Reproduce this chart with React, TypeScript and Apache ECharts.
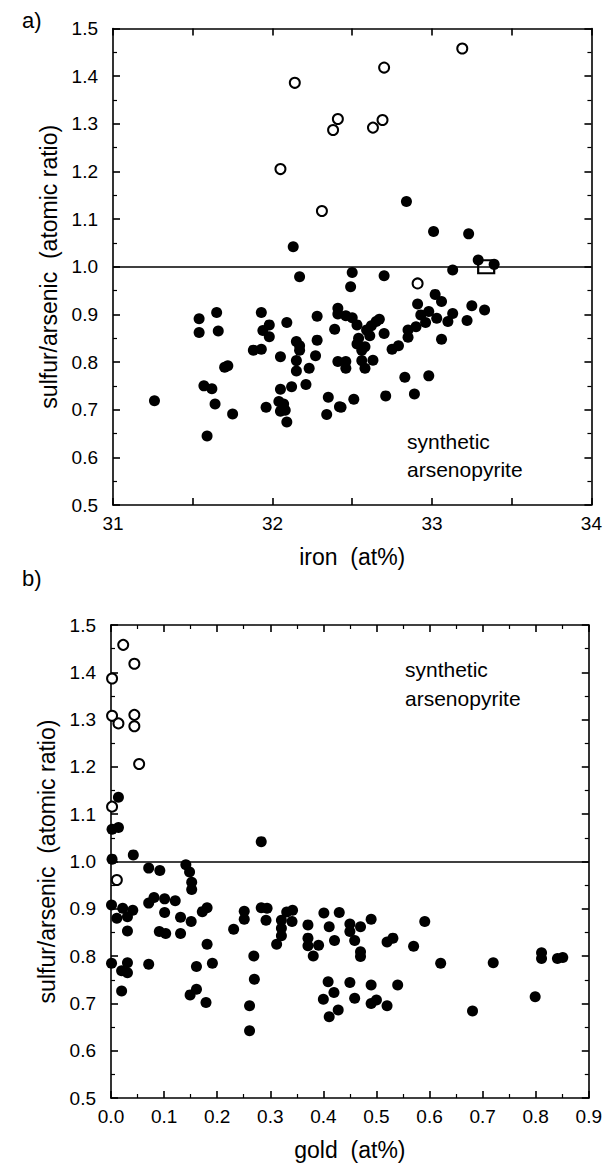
import React, { useEffect, useRef } from "react";
import * as echarts from "echarts";

// ---- data ----
const ironFilled: [number, number][] = [
  [32.13, 1.042], [32.17, 0.979], [32.84, 1.137], [33.01, 1.074], [33.23, 1.069], [33.29, 1.014], [33.39, 1.005], [33.13, 0.993], [32.50, 0.988], [32.70, 0.981],
  [31.26, 0.719], [31.54, 0.891], [31.54, 0.862], [31.65, 0.904], [31.66, 0.865], [31.57, 0.750], [31.62, 0.744], [31.64, 0.712], [31.59, 0.645], [31.70, 0.789], [31.72, 0.792], [31.75, 0.691],
  [31.93, 0.904], [31.88, 0.825], [31.93, 0.827], [31.94, 0.866], [31.98, 0.878], [31.98, 0.853], [31.96, 0.705], [32.09, 0.883], [32.05, 0.811], [32.05, 0.743], [32.04, 0.717], [32.07, 0.712],
  [32.05, 0.697], [32.08, 0.699], [32.09, 0.674], [32.12, 0.748], [32.15, 0.843], [32.17, 0.834], [32.17, 0.825], [32.15, 0.803], [32.15, 0.781], [32.21, 0.753], [32.23, 0.787], [32.28, 0.846],
  [32.28, 0.896], [32.27, 0.813], [32.35, 0.726], [32.34, 0.690], [32.39, 0.869], [32.41, 0.913], [32.41, 0.901], [32.41, 0.801], [32.42, 0.706],
  [32.49, 0.958], [32.46, 0.897], [32.50, 0.893], [32.53, 0.878], [32.59, 0.867], [32.62, 0.876], [32.65, 0.885], [32.67, 0.890], [32.61, 0.855], [32.54, 0.850], [32.53, 0.838], [32.58, 0.832],
  [32.56, 0.825], [32.70, 0.860], [32.46, 0.801], [32.46, 0.787], [32.56, 0.803], [32.58, 0.787], [32.63, 0.804], [32.75, 0.827], [32.79, 0.834], [32.85, 0.867], [32.85, 0.852], [32.90, 0.874],
  [32.91, 0.922], [32.93, 0.899], [32.96, 0.883], [32.98, 0.906], [33.02, 0.942], [33.03, 0.892], [33.06, 0.927], [33.13, 0.902], [33.10, 0.885], [33.06, 0.848], [33.22, 0.887], [33.25, 0.918],
  [33.33, 0.909], [32.83, 0.768], [32.98, 0.771], [32.89, 0.733], [32.71, 0.729], [32.51, 0.722], [32.43, 0.705],
];
const ironOpen: [number, number][] = [
  [32.14, 1.386], [32.05, 1.205], [32.31, 1.117], [32.38, 1.287], [32.41, 1.31], [33.19, 1.458], [32.70, 1.418], [32.63, 1.292], [32.69, 1.308], [32.91, 0.965],
];
const ironSquare: [number, number][] = [[33.34, 1.0]];

const goldFilled: [number, number][] = [
  [0.014, 1.136], [0.002, 1.068], [0.014, 1.072], [0.002, 1.005], [0.042, 1.014], [0.283, 1.042],
  [0.001, 0.908], [0.011, 0.880], [0.022, 0.901], [0.031, 0.883], [0.041, 0.897], [0.031, 0.853], [0.001, 0.785], [0.020, 0.769], [0.031, 0.786], [0.031, 0.765], [0.020, 0.726],
  [0.071, 0.986], [0.092, 0.981], [0.071, 0.912], [0.081, 0.924], [0.101, 0.921], [0.121, 0.917], [0.101, 0.892], [0.091, 0.852], [0.103, 0.848], [0.131, 0.882], [0.131, 0.848], [0.071, 0.783],
  [0.141, 0.993], [0.148, 0.978], [0.152, 0.956], [0.152, 0.941], [0.151, 0.873], [0.172, 0.894], [0.181, 0.902], [0.181, 0.825], [0.191, 0.785], [0.161, 0.778], [0.149, 0.718], [0.161, 0.730], [0.179, 0.702],
  [0.231, 0.857], [0.251, 0.895], [0.251, 0.878], [0.269, 0.800], [0.270, 0.751], [0.261, 0.695], [0.261, 0.642], [0.283, 0.902], [0.294, 0.901], [0.292, 0.876], [0.312, 0.825], [0.321, 0.876],
  [0.321, 0.859], [0.321, 0.843], [0.331, 0.893], [0.342, 0.897], [0.341, 0.873],
  [0.371, 0.866], [0.371, 0.838], [0.371, 0.822], [0.391, 0.823], [0.381, 0.800], [0.401, 0.891], [0.411, 0.862], [0.421, 0.833], [0.430, 0.892], [0.409, 0.746], [0.420, 0.723], [0.400, 0.709], [0.428, 0.686],
  [0.450, 0.868], [0.450, 0.852], [0.470, 0.862], [0.459, 0.833], [0.470, 0.809], [0.470, 0.799], [0.490, 0.878], [0.520, 0.830], [0.531, 0.838], [0.570, 0.821], [0.591, 0.873], [0.621, 0.785],
  [0.720, 0.786], [0.811, 0.807], [0.811, 0.795], [0.841, 0.795], [0.851, 0.797],
  [0.450, 0.744], [0.490, 0.739], [0.540, 0.739], [0.459, 0.711], [0.490, 0.700], [0.500, 0.707], [0.520, 0.695], [0.411, 0.672], [0.799, 0.714], [0.681, 0.684],
];
const goldOpen: [number, number][] = [
  [0.023, 1.458], [0.044, 1.418], [0.002, 1.387], [0.002, 1.308], [0.014, 1.292], [0.044, 1.310], [0.044, 1.286], [0.053, 1.206], [0.002, 1.116], [0.011, 0.961],
];
const referenceRatio = 1.0;

const FONT = '"Liberation Sans", Arial, Helvetica, sans-serif';

export default function App() {
  const ref = useRef<HTMLDivElement>(null);
  useEffect(() => {
    if (!ref.current) return;
    const chart = echarts.init(ref.current, undefined, { renderer: "svg" });
    const lineStyle = { color: "#000", width: 1.6 };
    const baseX = (gridIndex: number, min: number, max: number, interval: number, position: "bottom" | "top", labels: boolean, fmt: (v: number) => string, minor: boolean, name?: string) => ({
      type: "value", gridIndex, min, max, interval, position,
      axisLine: { show: true, onZero: false, lineStyle },
      axisTick: { show: true, inside: true, length: 7, lineStyle },
      minorTick: { show: minor, splitNumber: 2, length: 4, lineStyle: { color: "#000", width: 1.2 } },
      splitLine: { show: false },
      axisLabel: { show: labels, formatter: fmt, color: "#000", fontSize: 19, fontFamily: FONT, margin: 9 },
      name: name || "", nameLocation: "middle", nameGap: 40,
      nameTextStyle: { color: "#000", fontSize: 23, fontFamily: FONT },
    });
    const baseY = (gridIndex: number, position: "left" | "right", labels: boolean, name?: string) => ({
      type: "value", gridIndex, min: 0.5, max: 1.5, interval: 0.1, position,
      axisLine: { show: true, onZero: false, lineStyle },
      axisTick: { show: true, inside: true, length: 7, lineStyle },
      minorTick: { show: true, splitNumber: 2, length: 4, lineStyle: { color: "#000", width: 1.2 } },
      splitLine: { show: false },
      axisLabel: { show: labels, formatter: (v: number) => v.toFixed(1), color: "#000", fontSize: 19, fontFamily: FONT, margin: 15 },
      name: name || "", nameLocation: "middle", nameGap: 52, nameRotate: 90,
      nameTextStyle: { color: "#000", fontSize: 23, fontFamily: FONT },
    });
    const intFmt = (v: number) => (Math.abs(v - Math.round(v)) < 1e-6 ? String(Math.round(v)) : "");
    const dec1 = (v: number) => v.toFixed(1);
    const refLine = {
      silent: true, symbol: "none", animation: false,
      lineStyle: { color: "#000", width: 1.6, type: "solid", opacity: 1 },
      label: { show: false },
      data: [{ yAxis: referenceRatio }],
    };
    const filled = { symbol: "circle", symbolSize: 11, itemStyle: { color: "#000", opacity: 1 } };
    const open = { symbol: "circle", symbolSize: 10, itemStyle: { color: "#fff", borderColor: "#000", borderWidth: 2, opacity: 1 } };
    chart.setOption({
      animation: false,
      backgroundColor: "#fff",
      grid: [
        { left: 113, top: 28.5, width: 480, height: 476.5 },
        { left: 111, top: 625, width: 480, height: 473 },
      ],
      xAxis: [
        baseX(0, 31, 34, 0.5, "bottom", true, intFmt, false, "iron  (at%)"),
        baseX(0, 31, 34, 0.5, "top", false, intFmt, false),
        baseX(1, 0, 0.9, 0.1, "bottom", true, dec1, true, "gold  (at%)"),
        baseX(1, 0, 0.9, 0.1, "top", false, dec1, true),
      ],
      yAxis: [
        baseY(0, "left", true, "sulfur/arsenic  (atomic ratio)"),
        baseY(0, "right", false),
        baseY(1, "left", true, "sulfur/arsenic  (atomic ratio)"),
        baseY(1, "right", false),
      ],
      series: [
        { type: "scatter", xAxisIndex: 0, yAxisIndex: 0, data: ironFilled, ...filled, markLine: refLine, z: 3 },
        { type: "scatter", xAxisIndex: 0, yAxisIndex: 0, data: ironOpen, ...open, z: 4 },
        { type: "scatter", xAxisIndex: 0, yAxisIndex: 0, data: ironSquare, symbol: "rect", symbolSize: [16, 13], itemStyle: { color: "#fff", borderColor: "#000", borderWidth: 2, opacity: 1 }, z: 2 },
        { type: "scatter", xAxisIndex: 2, yAxisIndex: 2, data: goldFilled, ...filled, markLine: refLine, z: 3 },
        { type: "scatter", xAxisIndex: 2, yAxisIndex: 2, data: goldOpen, ...open, z: 4 },
      ],
      graphic: [
        { type: "text", left: 22, top: 9, style: { text: "a)", fill: "#000", fontSize: 22, fontFamily: FONT } },
        { type: "text", left: 22, top: 567, style: { text: "b)", fill: "#000", fontSize: 22, fontFamily: FONT } },
        { type: "text", left: 407, top: 427, style: { text: "synthetic\narsenopyrite", fill: "#000", fontSize: 21, lineHeight: 28, fontFamily: FONT } },
        { type: "text", left: 405, top: 655, style: { text: "synthetic\narsenopyrite", fill: "#000", fontSize: 21, lineHeight: 29, fontFamily: FONT } },
      ],
    });
    return () => chart.dispose();
  }, []);
  return <div ref={ref} style={{ position: "absolute", left: 0, top: 0, width: 605, height: 1167 }} />;
}
